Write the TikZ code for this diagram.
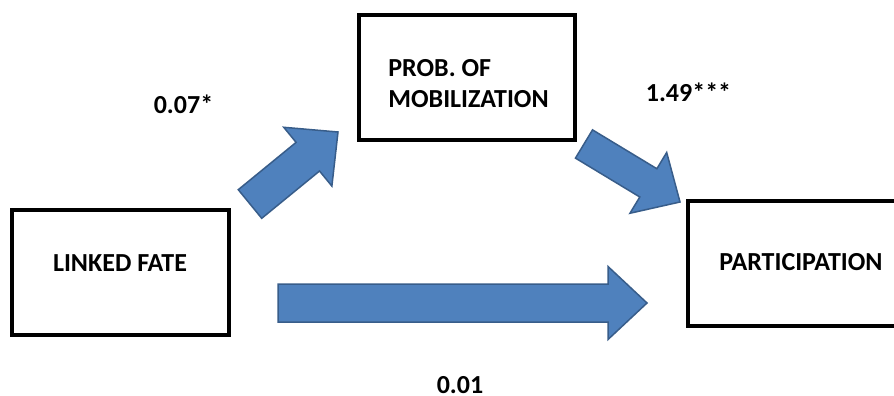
\documentclass[tikz,border=0pt]{standalone}
\usepackage{fontspec}
\setmainfont{Carlito}
\usetikzlibrary{calc}
\definecolor{arrowblue}{HTML}{4F81BD}
\definecolor{arrowedge}{HTML}{385D8A}
\tikzset{
  boxnode/.style={draw=black, line width=4pt, rectangle, minimum width=217pt, minimum height=125pt, inner sep=0pt},
  lbl/.style={font=\fontsize{26}{31}\selectfont\bfseries, inner sep=0pt, anchor=center},
  blockfill/.style={fill=arrowblue, draw=arrowedge, line width=1.5pt, line join=miter}
}
\newcommand{\blockarrow}[5]{%
  \coordinate (hb) at ($(#2)!#5!(#1)$);
  \path[blockfill] ($(#1)!#3!90:(#2)$) -- ($(hb)!#3!90:(#2)$) -- ($(hb)!#4!90:(#2)$) -- (#2)
    -- ($(hb)!#4!-90:(#2)$) -- ($(hb)!#3!-90:(#2)$) -- ($(#1)!#3!-90:(#2)$) -- cycle;
}
\begin{document}
\begin{tikzpicture}[x=1pt,y=-1pt]
  \path[use as bounding box] (0,0) rectangle (894,396);
  \clip (0,0) rectangle (894,396);
  \fill[white] (0,0) rectangle (894,396);
  % boxes
  \node[boxnode] (lf) at (120.5,272.5) {};
  \node[boxnode, minimum width=216pt] (mob) at (467,77.5) {};
  \node[boxnode] (part) at (796.5,263.5) {};
  % box texts
  \node[lbl] (lft) at (120,263.5) {LINKED FATE};
  \node[lbl, align=left] (mobt) at (468.5,83.5) {PROB. OF\\MOBILIZATION};
  \node[lbl] (partt) at (801,262.5) {PARTICIPATION};
  % arrow end points
  \coordinate (a1s) at (250,204);
  \coordinate (a1e) at (338,132);
  \coordinate (a2s) at (584,144);
  \coordinate (a2e) at (680,202);
  \coordinate (a3s) at (278,303);
  \coordinate (a3e) at (647,303);
  \blockarrow{a1s}{a1e}{18.5pt}{38pt}{39pt}
  \blockarrow{a2s}{a2e}{16.5pt}{35.5pt}{37pt}
  \blockarrow{a3s}{a3e}{19pt}{36.5pt}{39pt}
  % coefficient labels
  \node[lbl] (c1) at (183.5,104) {0.07*};
  \node[lbl] (c2) at (688.5,92) {1.49***};
  \node[lbl] (c3) at (460,385) {0.01};
\end{tikzpicture}
\end{document}
